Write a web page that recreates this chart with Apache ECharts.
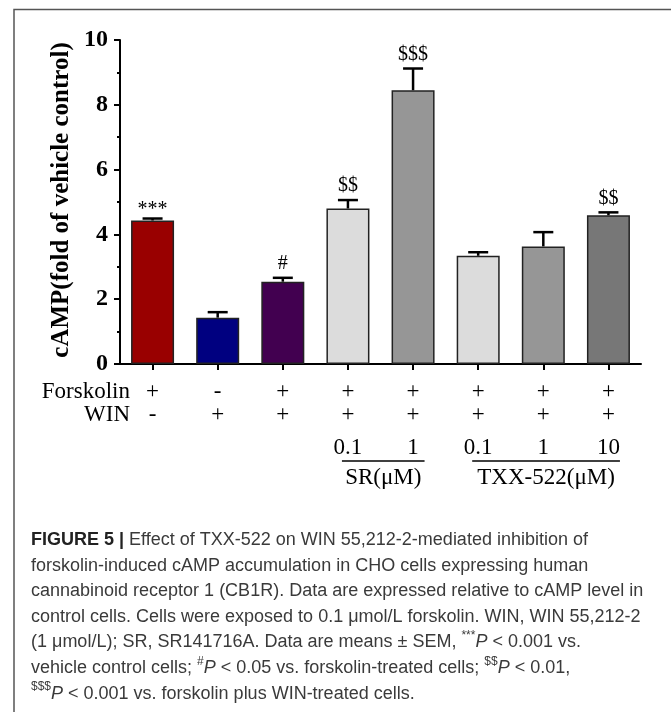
<!DOCTYPE html>
<html><head><meta charset="utf-8">
<script src="https://cdn.jsdelivr.net/npm/echarts@6/dist/echarts.min.js"></script>
<style>html,body{margin:0;padding:0;background:#fff;}#c{width:671px;height:712px;}</style>
</head><body><div id="c"></div>
<script>
// ---- data ----
const categories = ['F', 'W', 'F+W', 'F+W+SR0.1', 'F+W+SR1', 'F+W+TXX0.1', 'F+W+TXX1', 'F+W+TXX10'];
const forskolinRow = ['+', '-', '+', '+', '+', '+', '+', '+'];
const winRow = ['-', '+', '+', '+', '+', '+', '+', '+'];
const doseRow = ['', '', '', '0.1', '1', '0.1', '1', '10'];
const meanValues = [4.43, 1.43, 2.54, 4.80, 8.45, 3.34, 3.63, 4.59];
const semValues = [0.06, 0.17, 0.12, 0.26, 0.67, 0.11, 0.44, 0.09];
const marks = ['***', '', '#', '$$', '$$$', '', '', '$$'];
const yTicks = [0, 2, 4, 6, 8, 10];
const rowTitles = ['Forskolin', 'WIN'];
const groupNames = ['SR(μM)', 'TXX-522(μM)'];
const groupFrom = [3, 5];
const groupTo = [4, 7];
const yTitle = 'cAMP(fold of vehicle control)';
const captionLines = [
  '{b|FIGURE 5 |} Effect of TXX-522 on WIN 55,212-2-mediated inhibition of',
  'forskolin-induced cAMP accumulation in CHO cells expressing human',
  'cannabinoid receptor 1 (CB1R). Data are expressed relative to cAMP level in',
  'control cells. Cells were exposed to 0.1 μmol/L forskolin. WIN, WIN 55,212-2',
  '(1 μmol/L); SR, SR141716A. Data are means ± SEM, {s|***}{i|P} < 0.001 vs.',
  'vehicle control cells; {s|#}{i|P} < 0.05 vs. forskolin-treated cells; {s|$$}{i|P} < 0.01,',
  '{s|$$$}{i|P} < 0.001 vs. forskolin plus WIN-treated cells.'
];

// ---- styles ----
const barColors = ['#990000', '#000080', '#420050', '#dcdcdc', '#969696', '#dcdcdc', '#969696', '#777777'];
const SERIF = '"Liberation Serif", "Times New Roman", serif';
const SANS = '"Liberation Sans", Arial, sans-serif';

const chart = echarts.init(document.getElementById('c'), null, {renderer: 'canvas'});

chart.setOption({
  animation: false,
  backgroundColor: '#fff',
  grid: {left: 120, right: 30, top: 40, bottom: 348, containLabel: false, outerBoundsMode: 'none'},
  xAxis: {
    type: 'category',
    data: categories,
    boundaryGap: true,
    axisLine: {show: true, lineStyle: {color: '#000', width: 2}},
    axisTick: {show: true, alignWithLabel: true, length: 6, lineStyle: {color: '#000', width: 2}},
    splitLine: {show: false},
    axisLabel: {
      interval: 0,
      margin: 16,
      hideOverlap: false,
      formatter: function (v, i) {
        return '{r1|' + forskolinRow[i] + '}\n{r2|' + winRow[i] + '}\n{r3|' + (doseRow[i] || ' ') + '}';
      },
      rich: {
        r1: {fontFamily: SERIF, fontSize: 23, lineHeight: 23, color: '#000'},
        r2: {fontFamily: SERIF, fontSize: 23, lineHeight: 23, color: '#000'},
        r3: {fontFamily: SERIF, fontSize: 23, lineHeight: 43, color: '#000'}
      }
    }
  },
  yAxis: {
    type: 'value',
    min: yTicks[0],
    max: yTicks[yTicks.length - 1],
    interval: yTicks[1] - yTicks[0],
    axisLine: {show: true, lineStyle: {color: '#000', width: 2}},
    axisTick: {show: true, length: 6, lineStyle: {color: '#000', width: 2}},
    minorTick: {show: true, splitNumber: 2, length: 3, lineStyle: {color: '#000', width: 2}},
    splitLine: {show: false},
    minorSplitLine: {show: false},
    axisLabel: {margin: 12, fontFamily: SERIF, fontSize: 24, fontWeight: 'bold', color: '#000'}
  },
  series: [
    {
      type: 'bar',
      barWidth: 43,
      data: meanValues.map(function (v, i) {
        return {value: v, itemStyle: {color: barColors[i]}};
      }),
      itemStyle: {borderColor: '#222', borderWidth: 1.5},
      z: 2
    },
    {
      type: 'custom',
      z: 5,
      data: meanValues.map(function (v, i) { return [i, v, semValues[i]]; }),
      renderItem: function (params, api) {
        const i = api.value(0);
        const m = api.value(1);
        const s = api.value(2);
        const base = api.coord([i, m]);
        const top = api.coord([i, m + s]);
        const half = 10;
        const mk = marks[params.dataIndex];
        const off = mk.charAt(0) === '*' ? 9 : 14;
        const children = [
          {type: 'line', shape: {x1: base[0], y1: base[1], x2: top[0], y2: top[1]}, style: {stroke: '#000', lineWidth: 2.5}},
          {type: 'line', shape: {x1: top[0] - half, y1: top[1], x2: top[0] + half, y2: top[1]}, style: {stroke: '#000', lineWidth: 2.5}}
        ];
        if (mk) {
          children.push({
            type: 'text',
            style: {
              text: mk, x: top[0], y: top[1] - off,
              align: 'center', verticalAlign: 'middle',
              textAlign: 'center', textVerticalAlign: 'middle',
              font: '20px ' + SERIF, fill: '#000'
            }
          });
        }
        return {type: 'group', children: children};
      }
    }
  ]
});

// ---- annotations / layout graphics ----
const graphics = [];
// frame
graphics.push({type: 'polyline', shape: {points: [[14, 712], [14, 9.5], [671, 9.5]]}, style: {stroke: '#555', lineWidth: 1.5, fill: null}, silent: true});
// y axis title
graphics.push({
  type: 'text', x: 62, y: 200, rotation: Math.PI / 2,
  style: {text: yTitle, font: 'bold 25px ' + SERIF, fill: '#000', align: 'center', verticalAlign: 'middle', textAlign: 'center', textVerticalAlign: 'middle'}
});
// row titles
const rowY = [391.5, 414.5];
rowTitles.forEach(function (t, k) {
  graphics.push({
    type: 'text', x: 130, y: rowY[k],
    style: {text: t, font: '23px ' + SERIF, fill: '#000', align: 'right', verticalAlign: 'middle', textAlign: 'right', textVerticalAlign: 'middle'}
  });
});
// group underlines and labels
groupNames.forEach(function (name, g) {
  const xa = chart.convertToPixel({xAxisIndex: 0}, groupFrom[g]) - 6;
  const xb = chart.convertToPixel({xAxisIndex: 0}, groupTo[g]) + 11.5;
  graphics.push({type: 'line', shape: {x1: xa, y1: 461, x2: xb, y2: 461}, style: {stroke: '#000', lineWidth: 1.5}});
  graphics.push({
    type: 'text', x: (xa + xb) / 2, y: 478,
    style: {text: name, font: '23px ' + SERIF, fill: '#000', align: 'center', verticalAlign: 'middle', textAlign: 'center', textVerticalAlign: 'middle'}
  });
});
// caption
graphics.push({
  type: 'text', x: 31, y: 527.2,
  style: {
    text: captionLines.join('\n'),
    font: '18px ' + SANS,
    fill: '#3a3a3a',
    lineHeight: 25.6,
    align: 'left', verticalAlign: 'top', textAlign: 'left', textVerticalAlign: 'top',
    rich: {
      b: {fontFamily: SANS, fontSize: 18, fontWeight: 'bold', fill: '#222', color: '#222', lineHeight: 25.6},
      i: {fontFamily: SANS, fontSize: 18, fontStyle: 'italic', fill: '#3a3a3a', color: '#3a3a3a', lineHeight: 25.6},
      s: {fontFamily: SANS, fontSize: 12, fill: '#3a3a3a', color: '#3a3a3a', lineHeight: 13, verticalAlign: 'top'}
    }
  }
});
chart.setOption({graphic: graphics});
</script>
</body></html>
